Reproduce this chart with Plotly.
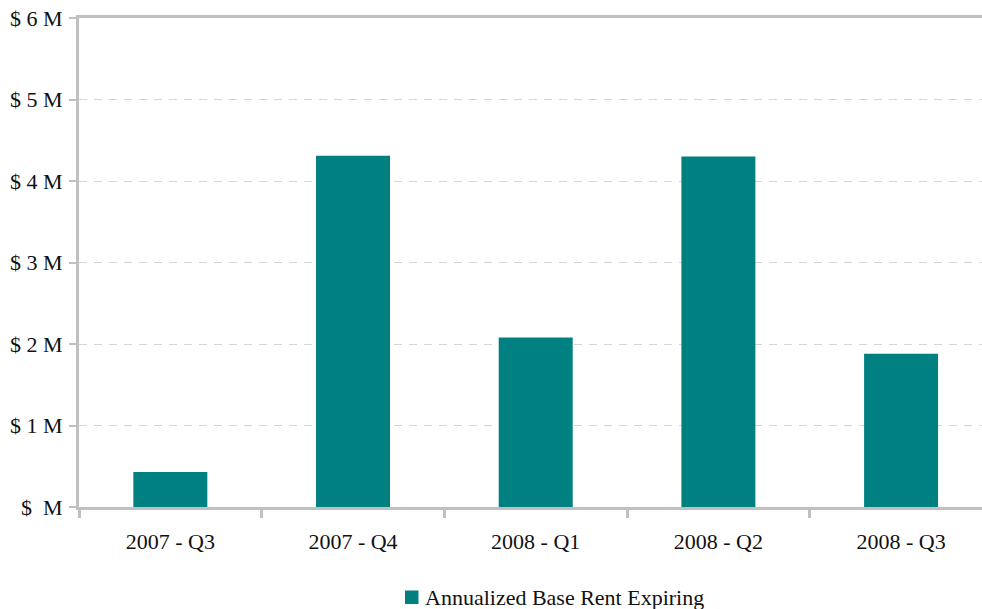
import plotly.graph_objects as go

# Quarterly annualized base rent expiring, in millions of dollars
quarters = ["2007 - Q3", "2007 - Q4", "2008 - Q1", "2008 - Q2", "2008 - Q3"]
rent_expiring_m = [0.43, 4.31, 2.08, 4.30, 1.88]
series_name = "Annualized Base Rent Expiring"

# Y-axis tick labels
y_tick_values = [0, 1, 2, 3, 4, 5, 6]
y_tick_labels = ["$\u00a0\u00a0M", "$ 1 M", "$ 2 M", "$ 3 M", "$ 4 M", "$ 5 M", "$ 6 M"]

TEAL = "#008080"
AXIS_GRAY = "#c0c0c0"
GRID_GRAY = "#d6d6d6"
TEXT = "#111111"
FONT = "Liberation Serif, Times New Roman, serif"
FS = 22

W, H = 982, 609
ML, MR, MT, MB = 79, 0, 18, 102
PW, PH = W - ML - MR, H - MT - MB


def px_x(px):
    return (px - ML) / PW


def px_y(py):
    return (H - MB - py) / PH


fig = go.Figure()
fig.add_trace(
    go.Bar(
        x=quarters,
        y=rent_expiring_m,
        name=series_name,
        marker=dict(color=TEAL, line=dict(width=0)),
        width=0.405,
        showlegend=False,
    )
)

# Legend key drawn below the plot: swatch plus label
fig.add_shape(
    type="rect",
    xref="paper", yref="paper",
    x0=px_x(405), x1=px_x(418.5),
    y0=px_y(604), y1=px_y(590.5),
    fillcolor=TEAL, line=dict(width=0),
)
fig.add_annotation(
    text=series_name,
    xref="paper", yref="paper",
    x=px_x(423), y=px_y(597.5),
    xanchor="left", yanchor="middle",
    showarrow=False,
    font=dict(family=FONT, size=FS, color=TEXT),
)

fig.update_layout(
    width=W,
    height=H,
    margin=dict(l=ML, r=MR, t=MT, b=MB, autoexpand=False),
    paper_bgcolor="white",
    plot_bgcolor="white",
    font=dict(family=FONT, size=FS, color=TEXT),
    showlegend=False,
)

fig.update_xaxes(
    type="category",
    range=[-0.5, 4.443],
    showline=True,
    linecolor=AXIS_GRAY,
    linewidth=3,
    mirror=True,
    ticks="outside",
    tickson="boundaries",
    ticklen=8,
    tickwidth=3,
    tickcolor=AXIS_GRAY,
    showgrid=False,
    zeroline=False,
    tickfont=dict(family=FONT, size=FS, color=TEXT),
    ticklabelstandoff=13,
)

fig.update_yaxes(
    range=[0, 6],
    tickvals=y_tick_values,
    ticktext=y_tick_labels,
    showline=True,
    linecolor=AXIS_GRAY,
    linewidth=3,
    ticks="outside",
    ticklen=7,
    tickwidth=2,
    tickcolor=AXIS_GRAY,
    showgrid=True,
    gridcolor=GRID_GRAY,
    griddash="8px,7px",
    gridwidth=1,
    zeroline=False,
    tickfont=dict(family=FONT, size=FS, color=TEXT),
    ticklabelstandoff=2,
)

fig.write_html("out.html")
